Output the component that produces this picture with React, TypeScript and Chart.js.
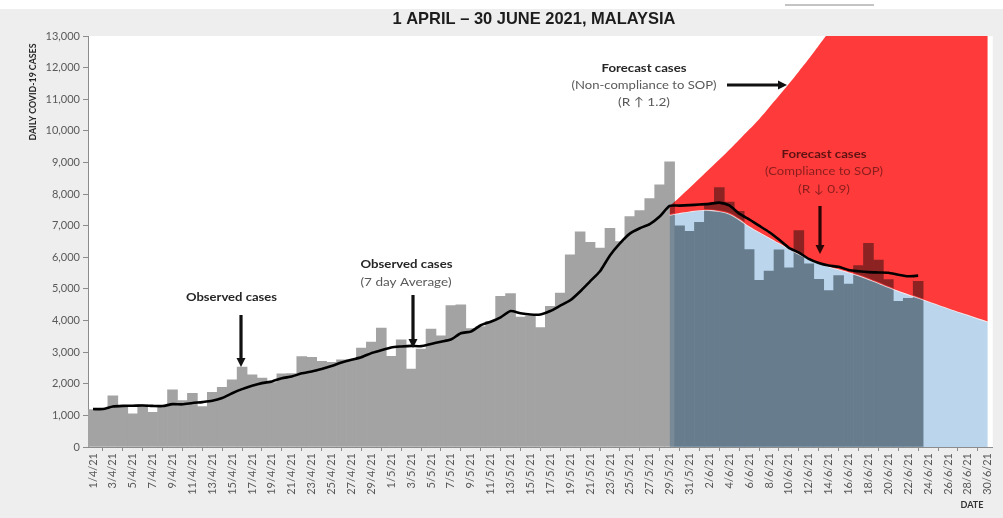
import { useEffect, useRef } from "react";
import { Chart, registerables } from "chart.js";

const W = 1003;
const H = 518;

const DATES = [
  "1/4/21", "2/4/21", "3/4/21", "4/4/21", "5/4/21", "6/4/21", "7/4/21", "8/4/21", "9/4/21", "10/4/21",
  "11/4/21", "12/4/21", "13/4/21", "14/4/21", "15/4/21", "16/4/21", "17/4/21", "18/4/21", "19/4/21", "20/4/21",
  "21/4/21", "22/4/21", "23/4/21", "24/4/21", "25/4/21", "26/4/21", "27/4/21", "28/4/21", "29/4/21", "30/4/21",
  "1/5/21", "2/5/21", "3/5/21", "4/5/21", "5/5/21", "6/5/21", "7/5/21", "8/5/21", "9/5/21", "10/5/21",
  "11/5/21", "12/5/21", "13/5/21", "14/5/21", "15/5/21", "16/5/21", "17/5/21", "18/5/21", "19/5/21", "20/5/21",
  "21/5/21", "22/5/21", "23/5/21", "24/5/21", "25/5/21", "26/5/21", "27/5/21", "28/5/21", "29/5/21", "30/5/21",
  "31/5/21",
  "1/6/21", "2/6/21", "3/6/21", "4/6/21", "5/6/21", "6/6/21", "7/6/21", "8/6/21", "9/6/21", "10/6/21",
  "11/6/21", "12/6/21", "13/6/21", "14/6/21", "15/6/21", "16/6/21", "17/6/21", "18/6/21", "19/6/21", "20/6/21",
  "21/6/21", "22/6/21", "23/6/21", "24/6/21", "25/6/21", "26/6/21", "27/6/21", "28/6/21", "29/6/21", "30/6/21",
];

// Observed daily cases, 1/4/21 .. 23/6/21
const OBSERVED = [
  1180, 1180, 1620, 1305, 1050, 1340, 1100, 1305, 1810, 1470,
  1700, 1280, 1730, 1890, 2125, 2525, 2285, 2180, 2040, 2315,
  2320, 2860, 2840, 2707, 2675, 2760, 2760, 3128, 3318, 3760,
  2865, 3391, 2464, 3100, 3728, 3518, 4476, 4497, 3744, 3807,
  3973, 4765, 4855, 4113, 4140, 3780, 4446, 4865, 6075, 6806,
  6470, 6290, 6920, 6500, 7289, 7478, 7857, 8290, 9020, 6993,
  6824, 7105, 7703, 8209, 7748, 7452, 6241, 5271, 5566, 6239,
  5671, 6849, 5793, 5304, 4949, 5419, 5150, 5738, 6440, 5911,
  5293, 4611, 4700, 5244,
];

// 7 day average, 1/4/21 .. 23/6/21
const AVG7 = [
  1200, 1200, 1280, 1300, 1305, 1315, 1300, 1295, 1355, 1350,
  1390, 1420, 1460, 1550, 1700, 1830, 1935, 2020, 2075, 2175,
  2230, 2330, 2390, 2470, 2560, 2670, 2760, 2840, 2970, 3060,
  3150, 3180, 3200, 3190, 3260, 3330, 3400, 3600, 3650, 3850,
  3960, 4100, 4300, 4230, 4190, 4190, 4300, 4470, 4640, 4920,
  5240, 5560, 6060, 6440, 6750, 6920, 7050, 7290, 7625, 7636,
  7650, 7670, 7690, 7730, 7640, 7380, 7200, 7000, 6800, 6560,
  6300, 6150, 5950, 5820, 5740, 5700, 5600, 5560, 5530, 5520,
  5510, 5450, 5400, 5420,
];

// Forecasts start on 29/5/21 and run to 30/6/21
const FORECAST_FROM = "29/5/21";
const FORECAST_BARS_FROM = "30/5/21";
const COMPLIANCE = [
  7340, 7400, 7450, 7490, 7495, 7460, 7380, 7200, 6980, 6800,
  6630, 6450, 6280, 6110, 5960, 5830, 5710, 5620, 5530, 5430,
  5310, 5190, 5060, 4940, 4830, 4720, 4610, 4500, 4390, 4280,
  4180, 4070, 3970,
];
const NON_COMPLIANCE = [
  7620, 7900, 8190, 8490, 8790, 9090, 9400, 9720, 10040, 10370,
  10740, 11110, 11490, 11880, 12280, 12700, 13120, 13550, 14000, 14460,
  14940, 15430, 15940, 16460, 17000, 17560, 18130, 18720, 19330, 19960,
  20610, 21280, 21970,
];

const Y_MAX = 13000;
const Y_STEP = 1000;

const FONT = 'Lato, "Open Sans", "Liberation Sans", sans-serif';

const GRAY_BAR = "#a3a3a3";
const FORECAST_BAR = "#8d9599";
const LIGHT_BLUE = "#bbd6ec";
const RED = "#ff3a3a";

// Index of the forecast area datasets (drawn with multiply blending over the bars)
const AREA_DATASETS = [2, 3];

// registered before the filler plugin: switch to multiply before the fill is painted
const multiplyOn = {
  id: "multiplyOn",
  beforeDatasetDraw(chart: any, args: any) {
    if (AREA_DATASETS.includes(args.index)) {
      chart.ctx.save();
      chart.ctx.globalCompositeOperation = "multiply";
    }
  },
};
// registered after the filler plugin: back to normal before the line itself is stroked
const multiplyOff = {
  id: "multiplyOff",
  beforeDatasetDraw(chart: any, args: any) {
    if (AREA_DATASETS.includes(args.index)) chart.ctx.restore();
  },
};

Chart.register(multiplyOn as any);
Chart.register(...registerables);
Chart.register(multiplyOff as any);

function place(values: number[], startLabel: string): (number | null)[] {
  const start = DATES.indexOf(startLabel);
  const out: (number | null)[] = DATES.map(() => null);
  values.forEach((v, i) => {
    out[start + i] = v;
  });
  return out;
}

function fitText(
  ctx: CanvasRenderingContext2D,
  text: string,
  cx: number,
  cy: number,
  font: string,
  color: string,
  width: number,
  rotate = 0
) {
  ctx.save();
  ctx.font = font;
  ctx.fillStyle = color;
  ctx.textAlign = "center";
  ctx.textBaseline = "middle";
  const w = ctx.measureText(text).width || 1;
  ctx.translate(cx, cy);
  if (rotate) ctx.rotate(rotate);
  ctx.scale(width / w, 1);
  ctx.fillText(text, 0, 0);
  ctx.restore();
}

function arrow(
  ctx: CanvasRenderingContext2D,
  x1: number,
  y1: number,
  x2: number,
  y2: number,
  color: string
) {
  const ang = Math.atan2(y2 - y1, x2 - x1);
  const head = 9;
  const half = 4.5;
  const bx = x2 - Math.cos(ang) * head;
  const by = y2 - Math.sin(ang) * head;
  ctx.save();
  ctx.strokeStyle = color;
  ctx.fillStyle = color;
  ctx.lineWidth = 3.2;
  ctx.beginPath();
  ctx.moveTo(x1, y1);
  ctx.lineTo(bx, by);
  ctx.stroke();
  ctx.beginPath();
  ctx.moveTo(x2, y2);
  ctx.lineTo(bx + Math.sin(ang) * half, by - Math.cos(ang) * half);
  ctx.lineTo(bx - Math.sin(ang) * half, by + Math.cos(ang) * half);
  ctx.closePath();
  ctx.fill();
  ctx.restore();
}

const backgroundPlugin = {
  id: "pageBackground",
  beforeDraw(chart: any) {
    const { ctx, chartArea: a } = chart;
    ctx.save();
    ctx.fillStyle = "#eeeeee";
    ctx.fillRect(0, 0, W, H);
    ctx.fillStyle = "#ffffff";
    ctx.fillRect(0, 0, W, 9);
    ctx.fillRect(a.left, a.top, a.right - a.left, a.bottom - a.top);
    ctx.strokeStyle = "#c4c4c4";
    ctx.lineWidth = 2;
    ctx.beginPath();
    ctx.moveTo(785, 5);
    ctx.lineTo(874, 5);
    ctx.stroke();
    ctx.restore();
  },
};

const annotationPlugin = {
  id: "annotations",
  afterDraw(chart: any) {
    const ctx: CanvasRenderingContext2D = chart.ctx;
    const bold = `bold 12px ${FONT}`;
    const norm = `12px ${FONT}`;
    // title
    fitText(ctx, "1 APRIL \u2013 30 JUNE 2021, MALAYSIA", 534, 19,
      'bold 17px "Liberation Sans Narrow", "Liberation Sans", Arial, sans-serif', "#1c1c1c", 283);
    // axis titles
    fitText(ctx, "DAILY COVID-19 CASES", 33, 92, `bold 9px ${FONT}`, "#262626", 97, -Math.PI / 2);
    fitText(ctx, "DATE", 972, 505, `bold 10px ${FONT}`, "#333333", 23);

    // observed cases
    fitText(ctx, "Observed cases", 231.5, 297, bold, "#262626", 91);
    arrow(ctx, 241, 315, 241, 367, "#111111");

    // observed 7 day average
    fitText(ctx, "Observed cases", 406.5, 264, bold, "#262626", 92);
    fitText(ctx, "(7 day Average)", 406, 282, norm, "#595959", 91);
    arrow(ctx, 413, 295, 413, 348, "#111111");

    // forecast non-compliance
    fitText(ctx, "Forecast cases", 644, 68, bold, "#262626", 85);
    fitText(ctx, "(Non-compliance to SOP)", 644, 85.5, norm, "#595959", 145);
    fitText(ctx, "(R \u2191 1.2)", 644, 102, norm, "#595959", 52);
    arrow(ctx, 727, 85, 787, 85, "#111111");

    // forecast compliance
    fitText(ctx, "Forecast cases", 824, 154, bold, "#5e1212", 85);
    fitText(ctx, "(Compliance to SOP)", 824, 171.5, norm, "#8a1e1e", 118);
    fitText(ctx, "(R \u2193 0.9)", 824, 189, norm, "#8a1e1e", 52);
    arrow(ctx, 820, 206, 820, 254, "#2a0606");
  },
};

export default function App() {
  const ref = useRef<HTMLCanvasElement | null>(null);

  useEffect(() => {
    if (!ref.current) return;
    const barStart = DATES.indexOf(FORECAST_BARS_FROM);
    const barColors = DATES.map((_d, i) => (i < barStart ? GRAY_BAR : FORECAST_BAR));
    const chart = new Chart(ref.current, {
      type: "bar",
      data: {
        labels: DATES,
        datasets: [
          {
            type: "bar",
            label: "Observed cases",
            data: place(OBSERVED, DATES[0]),
            backgroundColor: barColors,
            borderWidth: 0,
            barPercentage: 1,
            categoryPercentage: 1,
            order: 3,
          } as any,
          {
            type: "line",
            label: "Observed cases (7 day Average)",
            data: place(AVG7, DATES[0]),
            borderColor: "#000000",
            borderWidth: 2.6,
            pointRadius: 0,
            tension: 0.2,
            fill: false,
            order: 0,
          },
          {
            type: "line",
            label: "Forecast cases (Compliance to SOP)",
            data: place(COMPLIANCE, FORECAST_FROM),
            borderColor: "rgba(255,238,238,0.8)",
            borderWidth: 1.8,
            backgroundColor: LIGHT_BLUE,
            pointRadius: 0,
            tension: 0.4,
            fill: "origin",
            order: 2,
          },
          {
            type: "line",
            label: "Forecast cases (Non-compliance to SOP)",
            data: place(NON_COMPLIANCE, FORECAST_FROM),
            borderWidth: 0,
            borderColor: "rgba(0,0,0,0)",
            backgroundColor: RED,
            pointRadius: 0,
            tension: 0.4,
            fill: 2,
            order: 1,
          },
        ],
      },
      options: {
        responsive: false,
        animation: false,
        devicePixelRatio: 1,
        layout: { padding: { left: 0, right: 8, top: 36, bottom: 0 } },
        plugins: {
          legend: { display: false },
          tooltip: { enabled: false },
          title: { display: false },
        },
        scales: {
          x: {
            z: 1,
            offset: true,
            grid: {
              offset: true,
              drawOnChartArea: false,
              drawTicks: true,
              tickLength: 4,
              color: "#8c8c8c",
            },
            border: { display: true, color: "#8c8c8c", width: 1 },
            ticks: {
              autoSkip: false,
              maxRotation: 90,
              minRotation: 90,
              padding: 2,
              color: "#595959",
              font: { family: FONT, size: 11 },
              callback: (_v: any, i: number) => (i % 2 === 0 ? DATES[i] : null),
            },
            afterFit: (s: any) => {
              s.height = 71;
            },
          },
          y: {
            z: 1,
            min: 0,
            max: Y_MAX,
            grid: {
              drawOnChartArea: false,
              drawTicks: true,
              tickLength: 5,
              color: "#8c8c8c",
            },
            border: { display: true, color: "#8c8c8c", width: 1 },
            ticks: {
              stepSize: Y_STEP,
              padding: 3,
              color: "#595959",
              font: { family: FONT, size: 11 },
              callback: (v: any) => Number(v).toLocaleString("en-US"),
            },
            afterFit: (s: any) => {
              s.width = 88;
            },
          },
        },
      },
      plugins: [backgroundPlugin, annotationPlugin],
    });
    return () => chart.destroy();
  }, []);

  return (
    <div style={{ position: "absolute", left: 0, top: 0, width: W, height: H }}>
      <canvas ref={ref} width={W} height={H} style={{ width: W, height: H, display: "block" }} />
    </div>
  );
}
